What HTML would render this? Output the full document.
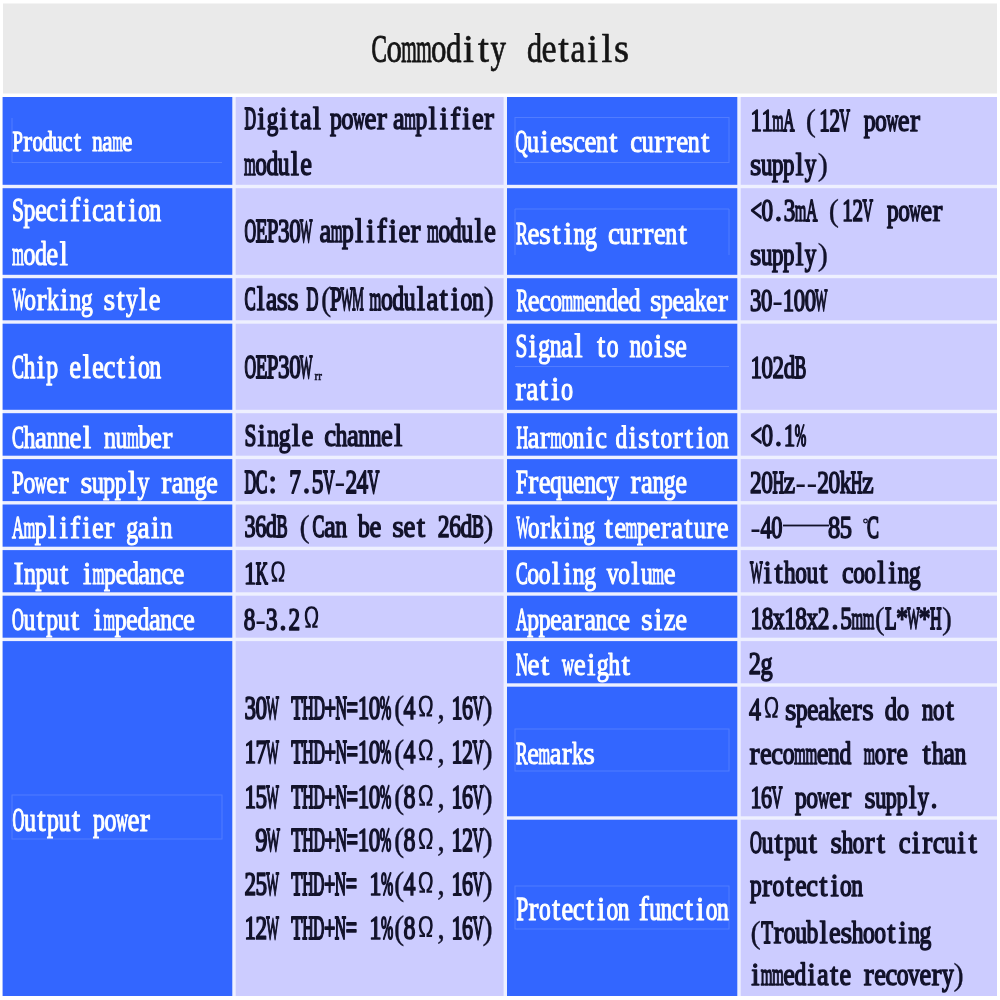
<!DOCTYPE html>
<html><head><meta charset="utf-8"><title>Commodity details</title>
<style>html,body{margin:0;padding:0;background:#fff;overflow:hidden}svg{display:block}text{font-family:"Liberation Serif",serif;font-size:20px;stroke-linejoin:round}</style></head><body>
<svg width="1000" height="1000" viewBox="0 0 1000 1000" style="filter:blur(0.6px)">
<rect width="1000" height="1000" fill="#ffffff"/>
<rect x="3" y="3.5" width="994" height="90" fill="#eaeaea"/>
<rect x="2.6" y="97" width="994.4" height="899" fill="#eef0ff"/>
<rect x="2.60" y="97.00" width="229.70" height="87.80" fill="#3366ff"/>
<rect x="2.60" y="188.20" width="229.70" height="86.60" fill="#3366ff"/>
<rect x="2.60" y="278.20" width="229.70" height="42.10" fill="#3366ff"/>
<rect x="2.60" y="323.70" width="229.70" height="86.10" fill="#3366ff"/>
<rect x="2.60" y="413.20" width="229.70" height="42.50" fill="#3366ff"/>
<rect x="2.60" y="459.10" width="229.70" height="42.00" fill="#3366ff"/>
<rect x="2.60" y="504.50" width="229.70" height="42.20" fill="#3366ff"/>
<rect x="2.60" y="550.10" width="229.70" height="42.20" fill="#3366ff"/>
<rect x="2.60" y="595.70" width="229.70" height="42.00" fill="#3366ff"/>
<rect x="2.60" y="641.10" width="229.70" height="354.90" fill="#3366ff"/>
<rect x="235.70" y="97.00" width="267.90" height="87.80" fill="#ccccff"/>
<rect x="235.70" y="188.20" width="267.90" height="86.60" fill="#ccccff"/>
<rect x="235.70" y="278.20" width="267.90" height="42.10" fill="#ccccff"/>
<rect x="235.70" y="323.70" width="267.90" height="86.10" fill="#ccccff"/>
<rect x="235.70" y="413.20" width="267.90" height="42.50" fill="#ccccff"/>
<rect x="235.70" y="459.10" width="267.90" height="42.00" fill="#ccccff"/>
<rect x="235.70" y="504.50" width="267.90" height="42.20" fill="#ccccff"/>
<rect x="235.70" y="550.10" width="267.90" height="42.20" fill="#ccccff"/>
<rect x="235.70" y="595.70" width="267.90" height="42.00" fill="#ccccff"/>
<rect x="235.70" y="641.10" width="267.90" height="354.90" fill="#ccccff"/>
<rect x="507.00" y="97.00" width="230.30" height="87.80" fill="#3366ff"/>
<rect x="507.00" y="188.20" width="230.30" height="86.60" fill="#3366ff"/>
<rect x="507.00" y="278.20" width="230.30" height="42.10" fill="#3366ff"/>
<rect x="507.00" y="323.70" width="230.30" height="86.10" fill="#3366ff"/>
<rect x="507.00" y="413.20" width="230.30" height="42.50" fill="#3366ff"/>
<rect x="507.00" y="459.10" width="230.30" height="42.00" fill="#3366ff"/>
<rect x="507.00" y="504.50" width="230.30" height="42.20" fill="#3366ff"/>
<rect x="507.00" y="550.10" width="230.30" height="42.20" fill="#3366ff"/>
<rect x="507.00" y="595.70" width="230.30" height="42.00" fill="#3366ff"/>
<rect x="507.00" y="641.10" width="230.30" height="42.20" fill="#3366ff"/>
<rect x="507.00" y="686.70" width="230.30" height="129.60" fill="#3366ff"/>
<rect x="507.00" y="819.70" width="230.30" height="176.30" fill="#3366ff"/>
<rect x="740.70" y="97.00" width="256.30" height="87.80" fill="#ccccff"/>
<rect x="740.70" y="188.20" width="256.30" height="86.60" fill="#ccccff"/>
<rect x="740.70" y="278.20" width="256.30" height="42.10" fill="#ccccff"/>
<rect x="740.70" y="323.70" width="256.30" height="86.10" fill="#ccccff"/>
<rect x="740.70" y="413.20" width="256.30" height="42.50" fill="#ccccff"/>
<rect x="740.70" y="459.10" width="256.30" height="42.00" fill="#ccccff"/>
<rect x="740.70" y="504.50" width="256.30" height="42.20" fill="#ccccff"/>
<rect x="740.70" y="550.10" width="256.30" height="42.20" fill="#ccccff"/>
<rect x="740.70" y="595.70" width="256.30" height="42.00" fill="#ccccff"/>
<rect x="740.70" y="641.10" width="256.30" height="42.20" fill="#ccccff"/>
<rect x="740.70" y="686.70" width="256.30" height="129.60" fill="#ccccff"/>
<rect x="740.70" y="819.70" width="256.30" height="176.30" fill="#ccccff"/>
<g fill="none" stroke="#6f93ff" stroke-width="1" opacity="0.5">
<path d="M12 118V162.5H222"/>
<rect x="12" y="795" width="210" height="44"/>
<rect x="515" y="117.5" width="214" height="45"/>
<path d="M515 255V209H729V255"/>
<rect x="515" y="729" width="214" height="42"/>
<rect x="515" y="886" width="214" height="43"/>
<path d="M515 366.5H729"/>
</g>
<g fill="#151515" stroke="#151515" transform="translate(0 61.60) scale(1 1.9854)">
<text transform="translate(371.60) scale(1.159 1)" stroke-width="0.52">C</text>
<text transform="translate(386.47) scale(1.546 1)" stroke-width="0.39">o</text>
<text transform="translate(401.33) scale(0.994 1)" stroke-width="0.51">m</text>
<text transform="translate(416.20) scale(0.994 1)" stroke-width="0.51">m</text>
<text transform="translate(431.07) scale(1.546 1)" stroke-width="0.39">o</text>
<text transform="translate(445.94) scale(1.546 1)" stroke-width="0.39">d</text>
<text transform="translate(463.04) scale(1.979 1)" stroke-width="0.30">i</text>
<text transform="translate(477.90) scale(1.979 1)" stroke-width="0.30">t</text>
<text transform="translate(490.54) scale(1.546 1)" stroke-width="0.39">y</text>
<text transform="translate(527.00) scale(1.507 1)" stroke-width="0.40">d</text>
<text transform="translate(541.49) scale(1.697 1)" stroke-width="0.35">e</text>
<text transform="translate(558.15) scale(1.929 1)" stroke-width="0.31">t</text>
<text transform="translate(570.46) scale(1.697 1)" stroke-width="0.35">a</text>
<text transform="translate(587.13) scale(1.929 1)" stroke-width="0.31">i</text>
<text transform="translate(601.62) scale(1.929 1)" stroke-width="0.31">l</text>
<text transform="translate(613.96) scale(1.929 1)" stroke-width="0.31">s</text>
</g>
<g fill="#ffffff" stroke="#ffffff" transform="translate(0 151.25) scale(1 1.4890)">
<text transform="translate(12.50) scale(0.932 1)" stroke-width="0.88">P</text>
<text transform="translate(23.23) scale(1.327 1)" stroke-width="0.65">r</text>
<text transform="translate(32.43) scale(1.036 1)" stroke-width="0.83">o</text>
<text transform="translate(42.39) scale(1.036 1)" stroke-width="0.83">d</text>
<text transform="translate(52.36) scale(1.036 1)" stroke-width="0.83">u</text>
<text transform="translate(62.32) scale(1.167 1)" stroke-width="0.74">c</text>
<text transform="translate(73.78) scale(1.327 1)" stroke-width="0.65">t</text>
<text transform="translate(92.22) scale(1.036 1)" stroke-width="0.83">n</text>
<text transform="translate(102.18) scale(1.167 1)" stroke-width="0.74">a</text>
<text transform="translate(112.15) scale(0.666 1)" stroke-width="0.73">m</text>
<text transform="translate(122.11) scale(1.167 1)" stroke-width="0.74">e</text>
</g>
<g fill="#ffffff" stroke="#ffffff" transform="translate(0 221.25) scale(1 1.6609)">
<text transform="translate(12.00) scale(1.070 1)" stroke-width="0.81">S</text>
<text transform="translate(23.45) scale(1.190 1)" stroke-width="0.73">p</text>
<text transform="translate(34.89) scale(1.341 1)" stroke-width="0.64">e</text>
<text transform="translate(46.34) scale(1.341 1)" stroke-width="0.64">c</text>
<text transform="translate(59.50) scale(1.524 1)" stroke-width="0.57">i</text>
<text transform="translate(70.11) scale(1.524 1)" stroke-width="0.57">f</text>
<text transform="translate(82.39) scale(1.524 1)" stroke-width="0.57">i</text>
<text transform="translate(92.12) scale(1.341 1)" stroke-width="0.64">c</text>
<text transform="translate(103.56) scale(1.341 1)" stroke-width="0.64">a</text>
<text transform="translate(116.73) scale(1.524 1)" stroke-width="0.57">t</text>
<text transform="translate(128.17) scale(1.524 1)" stroke-width="0.57">i</text>
<text transform="translate(137.90) scale(1.190 1)" stroke-width="0.73">o</text>
<text transform="translate(149.35) scale(1.190 1)" stroke-width="0.73">n</text>
</g>
<g fill="#ffffff" stroke="#ffffff" transform="translate(0 265.00) scale(1 1.6418)">
<text transform="translate(12.00) scale(0.766 1)" stroke-width="0.73">m</text>
<text transform="translate(23.45) scale(1.191 1)" stroke-width="0.73">o</text>
<text transform="translate(34.91) scale(1.191 1)" stroke-width="0.73">d</text>
<text transform="translate(46.36) scale(1.342 1)" stroke-width="0.64">e</text>
<text transform="translate(59.54) scale(1.525 1)" stroke-width="0.57">l</text>
</g>
<g fill="#ffffff" stroke="#ffffff" transform="translate(0 310.00) scale(1 1.5654)">
<text transform="translate(12.50) scale(0.682 1)" stroke-width="0.86">W</text>
<text transform="translate(24.36) scale(1.176 1)" stroke-width="0.73">o</text>
<text transform="translate(36.53) scale(1.505 1)" stroke-width="0.57">r</text>
<text transform="translate(46.97) scale(1.176 1)" stroke-width="0.73">k</text>
<text transform="translate(59.97) scale(1.505 1)" stroke-width="0.57">i</text>
<text transform="translate(69.58) scale(1.176 1)" stroke-width="0.73">n</text>
<text transform="translate(80.89) scale(1.176 1)" stroke-width="0.73">g</text>
<text transform="translate(103.52) scale(1.505 1)" stroke-width="0.57">s</text>
<text transform="translate(116.50) scale(1.505 1)" stroke-width="0.57">t</text>
<text transform="translate(126.10) scale(1.176 1)" stroke-width="0.73">y</text>
<text transform="translate(139.11) scale(1.505 1)" stroke-width="0.57">l</text>
<text transform="translate(148.71) scale(1.324 1)" stroke-width="0.65">e</text>
</g>
<g fill="#ffffff" stroke="#ffffff" transform="translate(0 377.50) scale(1 1.7181)">
<text transform="translate(12.00) scale(0.892 1)" stroke-width="0.89">C</text>
<text transform="translate(23.45) scale(1.190 1)" stroke-width="0.73">h</text>
<text transform="translate(36.61) scale(1.524 1)" stroke-width="0.57">i</text>
<text transform="translate(46.34) scale(1.190 1)" stroke-width="0.73">p</text>
<text transform="translate(69.23) scale(1.341 1)" stroke-width="0.64">e</text>
<text transform="translate(82.39) scale(1.524 1)" stroke-width="0.57">l</text>
<text transform="translate(92.12) scale(1.341 1)" stroke-width="0.64">e</text>
<text transform="translate(103.56) scale(1.341 1)" stroke-width="0.64">c</text>
<text transform="translate(116.73) scale(1.524 1)" stroke-width="0.57">t</text>
<text transform="translate(128.17) scale(1.524 1)" stroke-width="0.57">i</text>
<text transform="translate(137.90) scale(1.190 1)" stroke-width="0.73">o</text>
<text transform="translate(149.35) scale(1.190 1)" stroke-width="0.73">n</text>
</g>
<g fill="#ffffff" stroke="#ffffff" transform="translate(0 447.50) scale(1 1.6036)">
<text transform="translate(12.00) scale(0.896 1)" stroke-width="0.89">C</text>
<text transform="translate(23.50) scale(1.196 1)" stroke-width="0.72">h</text>
<text transform="translate(34.99) scale(1.347 1)" stroke-width="0.64">a</text>
<text transform="translate(46.49) scale(1.196 1)" stroke-width="0.72">n</text>
<text transform="translate(57.98) scale(1.196 1)" stroke-width="0.72">n</text>
<text transform="translate(69.48) scale(1.347 1)" stroke-width="0.64">e</text>
<text transform="translate(82.70) scale(1.530 1)" stroke-width="0.56">l</text>
<text transform="translate(103.96) scale(1.196 1)" stroke-width="0.72">n</text>
<text transform="translate(115.46) scale(1.196 1)" stroke-width="0.72">u</text>
<text transform="translate(126.96) scale(0.768 1)" stroke-width="0.73">m</text>
<text transform="translate(138.45) scale(1.196 1)" stroke-width="0.72">b</text>
<text transform="translate(149.95) scale(1.347 1)" stroke-width="0.64">e</text>
<text transform="translate(162.32) scale(1.530 1)" stroke-width="0.56">r</text>
</g>
<g fill="#ffffff" stroke="#ffffff" transform="translate(0 492.50) scale(1 1.6227)">
<text transform="translate(12.00) scale(1.067 1)" stroke-width="0.81">P</text>
<text transform="translate(23.42) scale(1.187 1)" stroke-width="0.73">o</text>
<text transform="translate(34.83) scale(0.822 1)" stroke-width="0.86">w</text>
<text transform="translate(46.25) scale(1.338 1)" stroke-width="0.65">e</text>
<text transform="translate(58.55) scale(1.520 1)" stroke-width="0.57">r</text>
<text transform="translate(80.53) scale(1.520 1)" stroke-width="0.57">s</text>
<text transform="translate(91.92) scale(1.187 1)" stroke-width="0.73">u</text>
<text transform="translate(103.34) scale(1.187 1)" stroke-width="0.73">p</text>
<text transform="translate(114.76) scale(1.187 1)" stroke-width="0.73">p</text>
<text transform="translate(127.89) scale(1.520 1)" stroke-width="0.57">l</text>
<text transform="translate(137.59) scale(1.187 1)" stroke-width="0.73">y</text>
<text transform="translate(161.30) scale(1.520 1)" stroke-width="0.57">r</text>
<text transform="translate(171.84) scale(1.338 1)" stroke-width="0.65">a</text>
<text transform="translate(183.26) scale(1.187 1)" stroke-width="0.73">n</text>
<text transform="translate(194.68) scale(1.187 1)" stroke-width="0.73">g</text>
<text transform="translate(206.10) scale(1.338 1)" stroke-width="0.65">e</text>
</g>
<g fill="#ffffff" stroke="#ffffff" transform="translate(0 538.25) scale(1 1.6227)">
<text transform="translate(12.00) scale(0.823 1)" stroke-width="0.92">A</text>
<text transform="translate(23.43) scale(0.764 1)" stroke-width="0.73">m</text>
<text transform="translate(34.86) scale(1.189 1)" stroke-width="0.73">p</text>
<text transform="translate(48.01) scale(1.522 1)" stroke-width="0.57">l</text>
<text transform="translate(59.44) scale(1.522 1)" stroke-width="0.57">i</text>
<text transform="translate(70.03) scale(1.522 1)" stroke-width="0.57">f</text>
<text transform="translate(82.31) scale(1.522 1)" stroke-width="0.57">i</text>
<text transform="translate(92.02) scale(1.339 1)" stroke-width="0.65">e</text>
<text transform="translate(104.33) scale(1.522 1)" stroke-width="0.57">r</text>
<text transform="translate(126.32) scale(1.189 1)" stroke-width="0.73">g</text>
<text transform="translate(137.75) scale(1.339 1)" stroke-width="0.65">a</text>
<text transform="translate(150.90) scale(1.522 1)" stroke-width="0.57">i</text>
<text transform="translate(160.61) scale(1.189 1)" stroke-width="0.73">n</text>
</g>
<g fill="#ffffff" stroke="#ffffff" transform="translate(0 583.75) scale(1 1.6227)">
<text transform="translate(13.50) scale(1.521 1)" stroke-width="0.57">I</text>
<text transform="translate(24.05) scale(1.188 1)" stroke-width="0.73">n</text>
<text transform="translate(35.48) scale(1.188 1)" stroke-width="0.73">p</text>
<text transform="translate(46.90) scale(1.188 1)" stroke-width="0.73">u</text>
<text transform="translate(60.04) scale(1.521 1)" stroke-width="0.57">t</text>
<text transform="translate(82.89) scale(1.521 1)" stroke-width="0.57">i</text>
<text transform="translate(92.61) scale(0.764 1)" stroke-width="0.73">m</text>
<text transform="translate(104.03) scale(1.188 1)" stroke-width="0.73">p</text>
<text transform="translate(115.46) scale(1.339 1)" stroke-width="0.65">e</text>
<text transform="translate(126.88) scale(1.188 1)" stroke-width="0.73">d</text>
<text transform="translate(138.31) scale(1.339 1)" stroke-width="0.65">a</text>
<text transform="translate(149.73) scale(1.188 1)" stroke-width="0.73">n</text>
<text transform="translate(161.16) scale(1.339 1)" stroke-width="0.65">c</text>
<text transform="translate(172.59) scale(1.339 1)" stroke-width="0.65">e</text>
</g>
<g fill="#ffffff" stroke="#ffffff" transform="translate(0 629.50) scale(1 1.5845)">
<text transform="translate(12.00) scale(0.821 1)" stroke-width="0.92">O</text>
<text transform="translate(23.41) scale(1.186 1)" stroke-width="0.73">u</text>
<text transform="translate(36.53) scale(1.519 1)" stroke-width="0.57">t</text>
<text transform="translate(46.22) scale(1.186 1)" stroke-width="0.73">p</text>
<text transform="translate(57.63) scale(1.186 1)" stroke-width="0.73">u</text>
<text transform="translate(70.75) scale(1.519 1)" stroke-width="0.57">t</text>
<text transform="translate(93.56) scale(1.519 1)" stroke-width="0.57">i</text>
<text transform="translate(103.26) scale(0.763 1)" stroke-width="0.73">m</text>
<text transform="translate(114.66) scale(1.186 1)" stroke-width="0.73">p</text>
<text transform="translate(126.07) scale(1.336 1)" stroke-width="0.65">e</text>
<text transform="translate(137.48) scale(1.186 1)" stroke-width="0.73">d</text>
<text transform="translate(148.89) scale(1.336 1)" stroke-width="0.65">a</text>
<text transform="translate(160.29) scale(1.186 1)" stroke-width="0.73">n</text>
<text transform="translate(171.70) scale(1.336 1)" stroke-width="0.65">c</text>
<text transform="translate(183.11) scale(1.336 1)" stroke-width="0.65">e</text>
</g>
<g fill="#ffffff" stroke="#ffffff" transform="translate(0 831.25) scale(1 1.7181)">
<text transform="translate(12.50) scale(0.828 1)" stroke-width="0.91">O</text>
<text transform="translate(23.99) scale(1.195 1)" stroke-width="0.72">u</text>
<text transform="translate(37.22) scale(1.530 1)" stroke-width="0.56">t</text>
<text transform="translate(46.98) scale(1.195 1)" stroke-width="0.72">p</text>
<text transform="translate(58.48) scale(1.195 1)" stroke-width="0.72">u</text>
<text transform="translate(71.70) scale(1.530 1)" stroke-width="0.56">t</text>
<text transform="translate(92.96) scale(1.195 1)" stroke-width="0.72">p</text>
<text transform="translate(104.46) scale(1.195 1)" stroke-width="0.72">o</text>
<text transform="translate(115.95) scale(0.828 1)" stroke-width="0.86">w</text>
<text transform="translate(127.45) scale(1.347 1)" stroke-width="0.64">e</text>
<text transform="translate(139.82) scale(1.530 1)" stroke-width="0.56">r</text>
</g>
<g fill="#12122a" stroke="#12122a" transform="translate(0 128.75) scale(1 1.6036)">
<text transform="translate(244.50) scale(0.800 1)" stroke-width="1.28">D</text>
<text transform="translate(257.27) scale(1.478 1)" stroke-width="0.81">i</text>
<text transform="translate(266.71) scale(1.155 1)" stroke-width="1.04">g</text>
<text transform="translate(279.48) scale(1.478 1)" stroke-width="0.81">i</text>
<text transform="translate(290.59) scale(1.478 1)" stroke-width="0.81">t</text>
<text transform="translate(300.02) scale(1.301 1)" stroke-width="0.92">a</text>
<text transform="translate(312.80) scale(1.478 1)" stroke-width="0.81">l</text>
<text transform="translate(330.00) scale(1.195 1)" stroke-width="1.00">p</text>
<text transform="translate(341.49) scale(1.195 1)" stroke-width="1.00">o</text>
<text transform="translate(352.97) scale(0.827 1)" stroke-width="1.20">w</text>
<text transform="translate(364.46) scale(1.346 1)" stroke-width="0.89">e</text>
<text transform="translate(376.83) scale(1.529 1)" stroke-width="0.78">r</text>
<text transform="translate(393.00) scale(1.320 1)" stroke-width="0.91">a</text>
<text transform="translate(404.27) scale(0.753 1)" stroke-width="1.02">m</text>
<text transform="translate(415.54) scale(1.172 1)" stroke-width="1.02">p</text>
<text transform="translate(428.50) scale(1.500 1)" stroke-width="0.80">l</text>
<text transform="translate(439.77) scale(1.500 1)" stroke-width="0.80">i</text>
<text transform="translate(450.21) scale(1.500 1)" stroke-width="0.80">f</text>
<text transform="translate(462.31) scale(1.500 1)" stroke-width="0.80">i</text>
<text transform="translate(471.89) scale(1.320 1)" stroke-width="0.91">e</text>
<text transform="translate(484.02) scale(1.500 1)" stroke-width="0.80">r</text>
</g>
<g fill="#12122a" stroke="#12122a" transform="translate(0 175.00) scale(1 1.6418)">
<text transform="translate(244.00) scale(0.752 1)" stroke-width="1.02">m</text>
<text transform="translate(255.25) scale(1.170 1)" stroke-width="1.03">o</text>
<text transform="translate(266.51) scale(1.170 1)" stroke-width="1.03">d</text>
<text transform="translate(277.76) scale(1.170 1)" stroke-width="1.03">u</text>
<text transform="translate(290.70) scale(1.498 1)" stroke-width="0.80">l</text>
<text transform="translate(300.27) scale(1.318 1)" stroke-width="0.91">e</text>
</g>
<g fill="#12122a" stroke="#12122a" transform="translate(0 242.00) scale(1 1.6799)">
<text transform="translate(244.50) scale(0.804 1)" stroke-width="1.28">O</text>
<text transform="translate(255.66) scale(0.950 1)" stroke-width="1.22">E</text>
<text transform="translate(266.83) scale(1.044 1)" stroke-width="1.15">P</text>
<text transform="translate(277.99) scale(1.161 1)" stroke-width="1.03">3</text>
<text transform="translate(289.16) scale(1.161 1)" stroke-width="1.03">0</text>
<text transform="translate(299.77) scale(0.673 1)" stroke-width="1.20">W</text>
<text transform="translate(319.50) scale(1.320 1)" stroke-width="0.91">a</text>
<text transform="translate(330.77) scale(0.753 1)" stroke-width="1.02">m</text>
<text transform="translate(342.04) scale(1.172 1)" stroke-width="1.02">p</text>
<text transform="translate(355.00) scale(1.500 1)" stroke-width="0.80">l</text>
<text transform="translate(366.27) scale(1.500 1)" stroke-width="0.80">i</text>
<text transform="translate(376.71) scale(1.500 1)" stroke-width="0.80">f</text>
<text transform="translate(388.81) scale(1.500 1)" stroke-width="0.80">i</text>
<text transform="translate(398.39) scale(1.320 1)" stroke-width="0.91">e</text>
<text transform="translate(410.52) scale(1.500 1)" stroke-width="0.80">r</text>
<text transform="translate(427.00) scale(0.763 1)" stroke-width="1.02">m</text>
<text transform="translate(438.42) scale(1.188 1)" stroke-width="1.01">o</text>
<text transform="translate(449.84) scale(1.188 1)" stroke-width="1.01">d</text>
<text transform="translate(461.26) scale(1.188 1)" stroke-width="1.01">u</text>
<text transform="translate(474.39) scale(1.520 1)" stroke-width="0.79">l</text>
<text transform="translate(484.09) scale(1.338 1)" stroke-width="0.90">e</text>
</g>
<g fill="#12122a" stroke="#12122a" transform="translate(0 310.00) scale(1 1.7181)">
<text transform="translate(244.49) scale(0.839 1)" stroke-width="1.26">C</text>
<text transform="translate(256.87) scale(1.433 1)" stroke-width="0.84">l</text>
<text transform="translate(266.02) scale(1.261 1)" stroke-width="0.95">a</text>
<text transform="translate(276.81) scale(1.433 1)" stroke-width="0.84">s</text>
<text transform="translate(287.58) scale(1.433 1)" stroke-width="0.84">s</text>
<text transform="translate(306.52) scale(0.828 1)" stroke-width="1.27">D</text>
<text transform="translate(320.91) scale(1.531 1)" stroke-width="0.20">(</text>
<text transform="translate(329.95) scale(1.035 1)" stroke-width="1.16">P</text>
<text transform="translate(340.47) scale(0.668 1)" stroke-width="1.20">W</text>
<text transform="translate(351.91) scale(0.668 1)" stroke-width="1.02">M</text>
<text transform="translate(369.50) scale(0.761 1)" stroke-width="1.02">m</text>
<text transform="translate(380.88) scale(1.183 1)" stroke-width="1.01">o</text>
<text transform="translate(392.26) scale(1.183 1)" stroke-width="1.01">d</text>
<text transform="translate(403.64) scale(1.183 1)" stroke-width="1.01">u</text>
<text transform="translate(416.73) scale(1.515 1)" stroke-width="0.79">l</text>
<text transform="translate(426.40) scale(1.333 1)" stroke-width="0.90">a</text>
<text transform="translate(439.49) scale(1.515 1)" stroke-width="0.79">t</text>
<text transform="translate(450.86) scale(1.515 1)" stroke-width="0.79">i</text>
<text transform="translate(460.54) scale(1.183 1)" stroke-width="1.01">o</text>
<text transform="translate(471.92) scale(1.183 1)" stroke-width="1.01">n</text>
<text transform="translate(483.66) scale(1.531 1)" stroke-width="0.20">)</text>
</g>
<g fill="#12122a" stroke="#12122a" transform="translate(0 378.00) scale(1 1.6609)">
<text transform="translate(244.50) scale(0.804 1)" stroke-width="1.28">O</text>
<text transform="translate(255.66) scale(0.950 1)" stroke-width="1.22">E</text>
<text transform="translate(266.83) scale(1.044 1)" stroke-width="1.15">P</text>
<text transform="translate(277.99) scale(1.161 1)" stroke-width="1.03">3</text>
<text transform="translate(289.16) scale(1.161 1)" stroke-width="1.03">0</text>
<text transform="translate(299.77) scale(0.673 1)" stroke-width="1.20">W</text>
</g>
<g fill="#12122a" stroke="#12122a" transform="translate(0 446.25) scale(1 1.5272)">
<text transform="translate(244.50) scale(1.064 1)" stroke-width="1.13">S</text>
<text transform="translate(257.58) scale(1.514 1)" stroke-width="0.79">i</text>
<text transform="translate(267.25) scale(1.183 1)" stroke-width="1.01">n</text>
<text transform="translate(278.63) scale(1.183 1)" stroke-width="1.01">g</text>
<text transform="translate(291.71) scale(1.514 1)" stroke-width="0.79">l</text>
<text transform="translate(301.38) scale(1.333 1)" stroke-width="0.90">e</text>
<text transform="translate(324.13) scale(1.333 1)" stroke-width="0.90">c</text>
<text transform="translate(335.51) scale(1.183 1)" stroke-width="1.01">h</text>
<text transform="translate(346.88) scale(1.333 1)" stroke-width="0.90">a</text>
<text transform="translate(358.26) scale(1.183 1)" stroke-width="1.01">n</text>
<text transform="translate(369.64) scale(1.183 1)" stroke-width="1.01">n</text>
<text transform="translate(381.01) scale(1.333 1)" stroke-width="0.90">e</text>
<text transform="translate(394.10) scale(1.514 1)" stroke-width="0.79">l</text>
</g>
<g fill="#12122a" stroke="#12122a" transform="translate(0 492.50) scale(1 1.7181)">
<text transform="translate(244.50) scale(0.807 1)" stroke-width="1.28">D</text>
<text transform="translate(255.71) scale(0.874 1)" stroke-width="1.25">C</text>
<text transform="translate(268.61) scale(1.493 1)" stroke-width="0.80">:</text>
<text transform="translate(289.35) scale(1.166 1)" stroke-width="1.03">7</text>
<text transform="translate(302.66) scale(1.493 1)" stroke-width="0.80">.</text>
<text transform="translate(311.77) scale(1.166 1)" stroke-width="1.03">5</text>
<text transform="translate(322.99) scale(0.807 1)" stroke-width="1.28">V</text>
<text transform="translate(334.87) scale(1.549 1)" stroke-width="0.10">-</text>
<text transform="translate(345.41) scale(1.166 1)" stroke-width="1.03">2</text>
<text transform="translate(356.62) scale(1.166 1)" stroke-width="1.03">4</text>
<text transform="translate(367.83) scale(0.807 1)" stroke-width="1.28">V</text>
</g>
<g fill="#12122a" stroke="#12122a" transform="translate(0 537.00) scale(1 1.5654)">
<text transform="translate(244.47) scale(1.108 1)" stroke-width="1.08">3</text>
<text transform="translate(255.13) scale(1.108 1)" stroke-width="1.08">6</text>
<text transform="translate(265.78) scale(1.108 1)" stroke-width="1.08">d</text>
<text transform="translate(276.44) scale(0.831 1)" stroke-width="1.27">B</text>
<text transform="translate(299.41) scale(1.531 1)" stroke-width="0.20">(</text>
<text transform="translate(312.50) scale(0.888 1)" stroke-width="1.24">C</text>
<text transform="translate(323.89) scale(1.334 1)" stroke-width="0.90">a</text>
<text transform="translate(335.27) scale(1.184 1)" stroke-width="1.01">n</text>
<text transform="translate(358.04) scale(1.184 1)" stroke-width="1.01">b</text>
<text transform="translate(369.43) scale(1.334 1)" stroke-width="0.90">e</text>
<text transform="translate(392.22) scale(1.516 1)" stroke-width="0.79">s</text>
<text transform="translate(403.59) scale(1.334 1)" stroke-width="0.90">e</text>
<text transform="translate(416.68) scale(1.516 1)" stroke-width="0.79">t</text>
<text transform="translate(437.74) scale(1.184 1)" stroke-width="1.01">2</text>
<text transform="translate(449.13) scale(1.184 1)" stroke-width="1.01">6</text>
<text transform="translate(460.51) scale(1.184 1)" stroke-width="1.01">d</text>
<text transform="translate(471.90) scale(0.888 1)" stroke-width="1.24">B</text>
<text transform="translate(483.16) scale(1.531 1)" stroke-width="0.20">)</text>
</g>
<g fill="#12122a" stroke="#12122a" transform="translate(0 583.75) scale(1 1.6036)">
<text transform="translate(243.91) scale(1.220 1)" stroke-width="0.98">1</text>
<text transform="translate(255.64) scale(0.845 1)" stroke-width="1.26">K</text>
</g>
<g fill="#12122a" stroke="#12122a" transform="translate(0 629.50) scale(1 1.5845)">
<text transform="translate(243.75) scale(1.161 1)" stroke-width="1.03">8</text>
<text transform="translate(255.58) scale(1.542 1)" stroke-width="0.10">-</text>
<text transform="translate(266.07) scale(1.161 1)" stroke-width="1.03">3</text>
<text transform="translate(279.32) scale(1.486 1)" stroke-width="0.81">.</text>
<text transform="translate(288.40) scale(1.161 1)" stroke-width="1.03">2</text>
</g>
<g fill="#12122a" stroke="#12122a" transform="translate(0 718.75) scale(1 1.6799)">
<text transform="translate(244.45) scale(1.156 1)" stroke-width="1.04">3</text>
<text transform="translate(255.56) scale(1.156 1)" stroke-width="1.04">0</text>
<text transform="translate(266.13) scale(0.671 1)" stroke-width="1.20">W</text>
<text transform="translate(291.25) scale(0.942 1)" stroke-width="1.22">T</text>
<text transform="translate(302.31) scale(0.797 1)" stroke-width="1.28">H</text>
<text transform="translate(313.38) scale(0.797 1)" stroke-width="1.28">D</text>
<text transform="translate(324.44) scale(1.020 1)" stroke-width="1.18">+</text>
<text transform="translate(335.50) scale(0.797 1)" stroke-width="1.28">N</text>
<text transform="translate(346.56) scale(1.020 1)" stroke-width="1.18">=</text>
<text transform="translate(357.63) scale(1.151 1)" stroke-width="1.04">1</text>
<text transform="translate(368.69) scale(1.151 1)" stroke-width="1.04">0</text>
<text transform="translate(379.75) scale(0.691 1)" stroke-width="1.34">%</text>
<text transform="translate(393.91) scale(1.531 1)" stroke-width="0.20">(</text>
<text transform="translate(403.52) scale(1.196 1)" stroke-width="1.00">4</text>
<text transform="translate(437.17) scale(1.531 1)" stroke-width="0.20">,</text>
<text transform="translate(451.39) scale(1.102 1)" stroke-width="1.09">1</text>
<text transform="translate(461.99) scale(1.102 1)" stroke-width="1.09">6</text>
<text transform="translate(472.58) scale(0.763 1)" stroke-width="1.30">V</text>
<text transform="translate(482.41) scale(1.531 1)" stroke-width="0.20">)</text>
</g>
<g fill="#12122a" stroke="#12122a" transform="translate(0 762.50) scale(1 1.6799)">
<text transform="translate(244.45) scale(1.156 1)" stroke-width="1.04">1</text>
<text transform="translate(255.56) scale(1.156 1)" stroke-width="1.04">7</text>
<text transform="translate(266.13) scale(0.671 1)" stroke-width="1.20">W</text>
<text transform="translate(291.25) scale(0.942 1)" stroke-width="1.22">T</text>
<text transform="translate(302.31) scale(0.797 1)" stroke-width="1.28">H</text>
<text transform="translate(313.38) scale(0.797 1)" stroke-width="1.28">D</text>
<text transform="translate(324.44) scale(1.020 1)" stroke-width="1.18">+</text>
<text transform="translate(335.50) scale(0.797 1)" stroke-width="1.28">N</text>
<text transform="translate(346.56) scale(1.020 1)" stroke-width="1.18">=</text>
<text transform="translate(357.63) scale(1.151 1)" stroke-width="1.04">1</text>
<text transform="translate(368.69) scale(1.151 1)" stroke-width="1.04">0</text>
<text transform="translate(379.75) scale(0.691 1)" stroke-width="1.34">%</text>
<text transform="translate(393.91) scale(1.531 1)" stroke-width="0.20">(</text>
<text transform="translate(403.52) scale(1.196 1)" stroke-width="1.00">4</text>
<text transform="translate(437.17) scale(1.531 1)" stroke-width="0.20">,</text>
<text transform="translate(451.39) scale(1.102 1)" stroke-width="1.09">1</text>
<text transform="translate(461.99) scale(1.102 1)" stroke-width="1.09">2</text>
<text transform="translate(472.58) scale(0.763 1)" stroke-width="1.30">V</text>
<text transform="translate(482.41) scale(1.531 1)" stroke-width="0.20">)</text>
</g>
<g fill="#12122a" stroke="#12122a" transform="translate(0 808.00) scale(1 1.6799)">
<text transform="translate(244.45) scale(1.156 1)" stroke-width="1.04">1</text>
<text transform="translate(255.56) scale(1.156 1)" stroke-width="1.04">5</text>
<text transform="translate(266.13) scale(0.671 1)" stroke-width="1.20">W</text>
<text transform="translate(291.25) scale(0.942 1)" stroke-width="1.22">T</text>
<text transform="translate(302.31) scale(0.797 1)" stroke-width="1.28">H</text>
<text transform="translate(313.38) scale(0.797 1)" stroke-width="1.28">D</text>
<text transform="translate(324.44) scale(1.020 1)" stroke-width="1.18">+</text>
<text transform="translate(335.50) scale(0.797 1)" stroke-width="1.28">N</text>
<text transform="translate(346.56) scale(1.020 1)" stroke-width="1.18">=</text>
<text transform="translate(357.63) scale(1.151 1)" stroke-width="1.04">1</text>
<text transform="translate(368.69) scale(1.151 1)" stroke-width="1.04">0</text>
<text transform="translate(379.75) scale(0.691 1)" stroke-width="1.34">%</text>
<text transform="translate(393.91) scale(1.531 1)" stroke-width="0.20">(</text>
<text transform="translate(403.52) scale(1.196 1)" stroke-width="1.00">8</text>
<text transform="translate(437.17) scale(1.531 1)" stroke-width="0.20">,</text>
<text transform="translate(451.39) scale(1.102 1)" stroke-width="1.09">1</text>
<text transform="translate(461.99) scale(1.102 1)" stroke-width="1.09">6</text>
<text transform="translate(472.58) scale(0.763 1)" stroke-width="1.30">V</text>
<text transform="translate(482.41) scale(1.531 1)" stroke-width="0.20">)</text>
</g>
<g fill="#12122a" stroke="#12122a" transform="translate(0 851.25) scale(1 1.6799)">
<text transform="translate(255.21) scale(1.228 1)" stroke-width="0.98">9</text>
<text transform="translate(266.43) scale(0.712 1)" stroke-width="1.20">W</text>
<text transform="translate(291.25) scale(0.942 1)" stroke-width="1.22">T</text>
<text transform="translate(302.31) scale(0.797 1)" stroke-width="1.28">H</text>
<text transform="translate(313.38) scale(0.797 1)" stroke-width="1.28">D</text>
<text transform="translate(324.44) scale(1.020 1)" stroke-width="1.18">+</text>
<text transform="translate(335.50) scale(0.797 1)" stroke-width="1.28">N</text>
<text transform="translate(346.56) scale(1.020 1)" stroke-width="1.18">=</text>
<text transform="translate(357.63) scale(1.151 1)" stroke-width="1.04">1</text>
<text transform="translate(368.69) scale(1.151 1)" stroke-width="1.04">0</text>
<text transform="translate(379.75) scale(0.691 1)" stroke-width="1.34">%</text>
<text transform="translate(393.91) scale(1.531 1)" stroke-width="0.20">(</text>
<text transform="translate(403.52) scale(1.196 1)" stroke-width="1.00">8</text>
<text transform="translate(437.17) scale(1.531 1)" stroke-width="0.20">,</text>
<text transform="translate(451.39) scale(1.102 1)" stroke-width="1.09">1</text>
<text transform="translate(461.99) scale(1.102 1)" stroke-width="1.09">2</text>
<text transform="translate(472.58) scale(0.763 1)" stroke-width="1.30">V</text>
<text transform="translate(482.41) scale(1.531 1)" stroke-width="0.20">)</text>
</g>
<g fill="#12122a" stroke="#12122a" transform="translate(0 895.00) scale(1 1.6799)">
<text transform="translate(244.45) scale(1.156 1)" stroke-width="1.04">2</text>
<text transform="translate(255.56) scale(1.156 1)" stroke-width="1.04">5</text>
<text transform="translate(266.13) scale(0.671 1)" stroke-width="1.20">W</text>
<text transform="translate(291.25) scale(0.926 1)" stroke-width="1.23">T</text>
<text transform="translate(302.13) scale(0.784 1)" stroke-width="1.29">H</text>
<text transform="translate(313.01) scale(0.784 1)" stroke-width="1.29">D</text>
<text transform="translate(323.90) scale(1.003 1)" stroke-width="1.20">+</text>
<text transform="translate(334.78) scale(0.784 1)" stroke-width="1.29">N</text>
<text transform="translate(345.66) scale(1.003 1)" stroke-width="1.20">=</text>
<text transform="translate(369.23) scale(1.225 1)" stroke-width="0.98">1</text>
<text transform="translate(381.02) scale(0.736 1)" stroke-width="1.32">%</text>
<text transform="translate(393.91) scale(1.531 1)" stroke-width="0.20">(</text>
<text transform="translate(403.52) scale(1.196 1)" stroke-width="1.00">4</text>
<text transform="translate(437.17) scale(1.531 1)" stroke-width="0.20">,</text>
<text transform="translate(451.39) scale(1.102 1)" stroke-width="1.09">1</text>
<text transform="translate(461.99) scale(1.102 1)" stroke-width="1.09">6</text>
<text transform="translate(472.58) scale(0.763 1)" stroke-width="1.30">V</text>
<text transform="translate(482.41) scale(1.531 1)" stroke-width="0.20">)</text>
</g>
<g fill="#12122a" stroke="#12122a" transform="translate(0 939.25) scale(1 1.6799)">
<text transform="translate(244.45) scale(1.156 1)" stroke-width="1.04">1</text>
<text transform="translate(255.56) scale(1.156 1)" stroke-width="1.04">2</text>
<text transform="translate(266.13) scale(0.671 1)" stroke-width="1.20">W</text>
<text transform="translate(291.25) scale(0.926 1)" stroke-width="1.23">T</text>
<text transform="translate(302.13) scale(0.784 1)" stroke-width="1.29">H</text>
<text transform="translate(313.01) scale(0.784 1)" stroke-width="1.29">D</text>
<text transform="translate(323.90) scale(1.003 1)" stroke-width="1.20">+</text>
<text transform="translate(334.78) scale(0.784 1)" stroke-width="1.29">N</text>
<text transform="translate(345.66) scale(1.003 1)" stroke-width="1.20">=</text>
<text transform="translate(369.23) scale(1.225 1)" stroke-width="0.98">1</text>
<text transform="translate(381.02) scale(0.736 1)" stroke-width="1.32">%</text>
<text transform="translate(393.91) scale(1.531 1)" stroke-width="0.20">(</text>
<text transform="translate(403.52) scale(1.196 1)" stroke-width="1.00">8</text>
<text transform="translate(437.17) scale(1.531 1)" stroke-width="0.20">,</text>
<text transform="translate(451.39) scale(1.102 1)" stroke-width="1.09">1</text>
<text transform="translate(461.99) scale(1.102 1)" stroke-width="1.09">6</text>
<text transform="translate(472.58) scale(0.763 1)" stroke-width="1.30">V</text>
<text transform="translate(482.41) scale(1.531 1)" stroke-width="0.20">)</text>
</g>
<g fill="#ffffff" stroke="#ffffff" transform="translate(0 152.00) scale(1 1.5845)">
<text transform="translate(515.50) scale(0.827 1)" stroke-width="0.91">Q</text>
<text transform="translate(526.99) scale(1.195 1)" stroke-width="0.72">u</text>
<text transform="translate(540.20) scale(1.529 1)" stroke-width="0.57">i</text>
<text transform="translate(549.96) scale(1.346 1)" stroke-width="0.64">e</text>
<text transform="translate(561.47) scale(1.529 1)" stroke-width="0.57">s</text>
<text transform="translate(572.93) scale(1.346 1)" stroke-width="0.64">c</text>
<text transform="translate(584.42) scale(1.346 1)" stroke-width="0.64">e</text>
<text transform="translate(595.91) scale(1.195 1)" stroke-width="0.72">n</text>
<text transform="translate(609.12) scale(1.529 1)" stroke-width="0.57">t</text>
<text transform="translate(630.37) scale(1.346 1)" stroke-width="0.64">c</text>
<text transform="translate(641.85) scale(1.195 1)" stroke-width="0.72">u</text>
<text transform="translate(654.22) scale(1.529 1)" stroke-width="0.57">r</text>
<text transform="translate(665.71) scale(1.529 1)" stroke-width="0.57">r</text>
<text transform="translate(676.32) scale(1.346 1)" stroke-width="0.64">e</text>
<text transform="translate(687.80) scale(1.195 1)" stroke-width="0.72">n</text>
<text transform="translate(701.01) scale(1.529 1)" stroke-width="0.57">t</text>
</g>
<g fill="#ffffff" stroke="#ffffff" transform="translate(0 243.75) scale(1 1.6227)">
<text transform="translate(516.00) scale(0.895 1)" stroke-width="0.89">R</text>
<text transform="translate(527.49) scale(1.345 1)" stroke-width="0.64">e</text>
<text transform="translate(538.99) scale(1.529 1)" stroke-width="0.57">s</text>
<text transform="translate(552.18) scale(1.529 1)" stroke-width="0.57">t</text>
<text transform="translate(563.66) scale(1.529 1)" stroke-width="0.57">i</text>
<text transform="translate(573.43) scale(1.194 1)" stroke-width="0.72">n</text>
<text transform="translate(584.91) scale(1.194 1)" stroke-width="0.72">g</text>
<text transform="translate(607.88) scale(1.345 1)" stroke-width="0.64">c</text>
<text transform="translate(619.37) scale(1.194 1)" stroke-width="0.72">u</text>
<text transform="translate(631.73) scale(1.529 1)" stroke-width="0.57">r</text>
<text transform="translate(643.22) scale(1.529 1)" stroke-width="0.57">r</text>
<text transform="translate(653.82) scale(1.345 1)" stroke-width="0.64">e</text>
<text transform="translate(665.31) scale(1.194 1)" stroke-width="0.72">n</text>
<text transform="translate(678.51) scale(1.529 1)" stroke-width="0.57">t</text>
</g>
<g fill="#ffffff" stroke="#ffffff" transform="translate(0 310.50) scale(1 1.5654)">
<text transform="translate(516.50) scale(0.876 1)" stroke-width="0.90">R</text>
<text transform="translate(527.73) scale(1.316 1)" stroke-width="0.66">e</text>
<text transform="translate(538.96) scale(1.316 1)" stroke-width="0.66">c</text>
<text transform="translate(550.20) scale(1.168 1)" stroke-width="0.74">o</text>
<text transform="translate(561.43) scale(0.751 1)" stroke-width="0.73">m</text>
<text transform="translate(572.66) scale(0.751 1)" stroke-width="0.73">m</text>
<text transform="translate(583.89) scale(1.316 1)" stroke-width="0.66">e</text>
<text transform="translate(595.12) scale(1.168 1)" stroke-width="0.74">n</text>
<text transform="translate(606.36) scale(1.168 1)" stroke-width="0.74">d</text>
<text transform="translate(617.59) scale(1.316 1)" stroke-width="0.66">e</text>
<text transform="translate(628.82) scale(1.168 1)" stroke-width="0.74">d</text>
<text transform="translate(650.00) scale(1.492 1)" stroke-width="0.58">s</text>
<text transform="translate(661.18) scale(1.166 1)" stroke-width="0.74">p</text>
<text transform="translate(672.39) scale(1.313 1)" stroke-width="0.66">e</text>
<text transform="translate(683.60) scale(1.313 1)" stroke-width="0.66">a</text>
<text transform="translate(694.81) scale(1.166 1)" stroke-width="0.74">k</text>
<text transform="translate(706.01) scale(1.313 1)" stroke-width="0.66">e</text>
<text transform="translate(718.08) scale(1.492 1)" stroke-width="0.58">r</text>
</g>
<g fill="#ffffff" stroke="#ffffff" transform="translate(0 357.00) scale(1 1.6799)">
<text transform="translate(515.50) scale(1.066 1)" stroke-width="0.81">S</text>
<text transform="translate(528.61) scale(1.518 1)" stroke-width="0.57">i</text>
<text transform="translate(538.30) scale(1.186 1)" stroke-width="0.73">g</text>
<text transform="translate(549.70) scale(1.186 1)" stroke-width="0.73">n</text>
<text transform="translate(561.10) scale(1.336 1)" stroke-width="0.65">a</text>
<text transform="translate(574.22) scale(1.518 1)" stroke-width="0.57">l</text>
<text transform="translate(597.02) scale(1.518 1)" stroke-width="0.57">t</text>
<text transform="translate(606.71) scale(1.186 1)" stroke-width="0.73">o</text>
<text transform="translate(629.51) scale(1.186 1)" stroke-width="0.73">n</text>
<text transform="translate(640.91) scale(1.186 1)" stroke-width="0.73">o</text>
<text transform="translate(654.02) scale(1.518 1)" stroke-width="0.57">i</text>
<text transform="translate(663.73) scale(1.518 1)" stroke-width="0.57">s</text>
<text transform="translate(675.11) scale(1.336 1)" stroke-width="0.65">e</text>
</g>
<g fill="#ffffff" stroke="#ffffff" transform="translate(0 400.00) scale(1 1.6418)">
<text transform="translate(515.50) scale(1.542 1)" stroke-width="0.56">r</text>
<text transform="translate(526.20) scale(1.357 1)" stroke-width="0.64">a</text>
<text transform="translate(539.52) scale(1.542 1)" stroke-width="0.56">t</text>
<text transform="translate(551.11) scale(1.542 1)" stroke-width="0.56">i</text>
<text transform="translate(560.95) scale(1.205 1)" stroke-width="0.72">o</text>
</g>
<g fill="#ffffff" stroke="#ffffff" transform="translate(0 447.50) scale(1 1.5654)">
<text transform="translate(516.50) scale(0.810 1)" stroke-width="0.92">H</text>
<text transform="translate(527.75) scale(1.318 1)" stroke-width="0.66">a</text>
<text transform="translate(539.87) scale(1.498 1)" stroke-width="0.58">r</text>
<text transform="translate(550.26) scale(0.752 1)" stroke-width="0.73">m</text>
<text transform="translate(561.51) scale(1.170 1)" stroke-width="0.74">o</text>
<text transform="translate(572.76) scale(1.170 1)" stroke-width="0.74">n</text>
<text transform="translate(585.70) scale(1.498 1)" stroke-width="0.58">i</text>
<text transform="translate(595.27) scale(1.318 1)" stroke-width="0.66">c</text>
<text transform="translate(615.50) scale(1.173 1)" stroke-width="0.74">d</text>
<text transform="translate(628.47) scale(1.502 1)" stroke-width="0.58">i</text>
<text transform="translate(638.08) scale(1.502 1)" stroke-width="0.58">s</text>
<text transform="translate(651.03) scale(1.502 1)" stroke-width="0.58">t</text>
<text transform="translate(660.62) scale(1.173 1)" stroke-width="0.74">o</text>
<text transform="translate(672.76) scale(1.502 1)" stroke-width="0.58">r</text>
<text transform="translate(684.87) scale(1.502 1)" stroke-width="0.58">t</text>
<text transform="translate(696.15) scale(1.502 1)" stroke-width="0.58">i</text>
<text transform="translate(705.74) scale(1.173 1)" stroke-width="0.74">o</text>
<text transform="translate(717.02) scale(1.173 1)" stroke-width="0.74">n</text>
</g>
<g fill="#ffffff" stroke="#ffffff" transform="translate(0 493.00) scale(1 1.6609)">
<text transform="translate(516.00) scale(1.063 1)" stroke-width="0.81">F</text>
<text transform="translate(528.24) scale(1.513 1)" stroke-width="0.57">r</text>
<text transform="translate(538.74) scale(1.332 1)" stroke-width="0.65">e</text>
<text transform="translate(550.10) scale(1.182 1)" stroke-width="0.73">q</text>
<text transform="translate(561.47) scale(1.182 1)" stroke-width="0.73">u</text>
<text transform="translate(572.84) scale(1.332 1)" stroke-width="0.65">e</text>
<text transform="translate(584.21) scale(1.182 1)" stroke-width="0.73">n</text>
<text transform="translate(595.57) scale(1.332 1)" stroke-width="0.65">c</text>
<text transform="translate(606.94) scale(1.182 1)" stroke-width="0.73">y</text>
<text transform="translate(630.55) scale(1.513 1)" stroke-width="0.57">r</text>
<text transform="translate(641.04) scale(1.332 1)" stroke-width="0.65">a</text>
<text transform="translate(652.41) scale(1.182 1)" stroke-width="0.73">n</text>
<text transform="translate(663.78) scale(1.182 1)" stroke-width="0.73">g</text>
<text transform="translate(675.15) scale(1.332 1)" stroke-width="0.65">e</text>
</g>
<g fill="#ffffff" stroke="#ffffff" transform="translate(0 537.50) scale(1 1.5272)">
<text transform="translate(516.50) scale(0.668 1)" stroke-width="0.86">W</text>
<text transform="translate(528.12) scale(1.152 1)" stroke-width="0.75">o</text>
<text transform="translate(540.04) scale(1.474 1)" stroke-width="0.59">r</text>
<text transform="translate(550.26) scale(1.152 1)" stroke-width="0.75">k</text>
<text transform="translate(563.00) scale(1.474 1)" stroke-width="0.59">i</text>
<text transform="translate(572.41) scale(1.152 1)" stroke-width="0.75">n</text>
<text transform="translate(583.49) scale(1.152 1)" stroke-width="0.75">g</text>
<text transform="translate(604.50) scale(1.518 1)" stroke-width="0.57">t</text>
<text transform="translate(614.19) scale(1.336 1)" stroke-width="0.65">e</text>
<text transform="translate(625.60) scale(0.763 1)" stroke-width="0.73">m</text>
<text transform="translate(637.01) scale(1.186 1)" stroke-width="0.73">p</text>
<text transform="translate(648.42) scale(1.336 1)" stroke-width="0.65">e</text>
<text transform="translate(660.70) scale(1.518 1)" stroke-width="0.57">r</text>
<text transform="translate(671.23) scale(1.336 1)" stroke-width="0.65">a</text>
<text transform="translate(684.35) scale(1.518 1)" stroke-width="0.57">t</text>
<text transform="translate(694.04) scale(1.186 1)" stroke-width="0.73">u</text>
<text transform="translate(706.32) scale(1.518 1)" stroke-width="0.57">r</text>
<text transform="translate(716.86) scale(1.336 1)" stroke-width="0.65">e</text>
</g>
<g fill="#ffffff" stroke="#ffffff" transform="translate(0 583.75) scale(1 1.6227)">
<text transform="translate(516.00) scale(0.886 1)" stroke-width="0.90">C</text>
<text transform="translate(527.36) scale(1.181 1)" stroke-width="0.73">o</text>
<text transform="translate(538.72) scale(1.181 1)" stroke-width="0.73">o</text>
<text transform="translate(551.78) scale(1.512 1)" stroke-width="0.57">l</text>
<text transform="translate(563.14) scale(1.512 1)" stroke-width="0.57">i</text>
<text transform="translate(572.79) scale(1.181 1)" stroke-width="0.73">n</text>
<text transform="translate(584.15) scale(1.181 1)" stroke-width="0.73">g</text>
<text transform="translate(606.87) scale(1.181 1)" stroke-width="0.73">v</text>
<text transform="translate(618.22) scale(1.181 1)" stroke-width="0.73">o</text>
<text transform="translate(631.29) scale(1.512 1)" stroke-width="0.57">l</text>
<text transform="translate(640.94) scale(1.181 1)" stroke-width="0.73">u</text>
<text transform="translate(652.30) scale(0.759 1)" stroke-width="0.73">m</text>
<text transform="translate(663.66) scale(1.331 1)" stroke-width="0.65">e</text>
</g>
<g fill="#ffffff" stroke="#ffffff" transform="translate(0 629.50) scale(1 1.5845)">
<text transform="translate(516.00) scale(0.819 1)" stroke-width="0.92">A</text>
<text transform="translate(527.37) scale(1.182 1)" stroke-width="0.73">p</text>
<text transform="translate(538.74) scale(1.182 1)" stroke-width="0.73">p</text>
<text transform="translate(550.10) scale(1.332 1)" stroke-width="0.65">e</text>
<text transform="translate(561.47) scale(1.332 1)" stroke-width="0.65">a</text>
<text transform="translate(573.71) scale(1.513 1)" stroke-width="0.57">r</text>
<text transform="translate(584.21) scale(1.332 1)" stroke-width="0.65">a</text>
<text transform="translate(595.57) scale(1.182 1)" stroke-width="0.73">n</text>
<text transform="translate(606.94) scale(1.332 1)" stroke-width="0.65">c</text>
<text transform="translate(618.31) scale(1.332 1)" stroke-width="0.65">e</text>
<text transform="translate(641.07) scale(1.513 1)" stroke-width="0.57">s</text>
<text transform="translate(654.12) scale(1.513 1)" stroke-width="0.57">i</text>
<text transform="translate(663.78) scale(1.332 1)" stroke-width="0.65">z</text>
<text transform="translate(675.15) scale(1.332 1)" stroke-width="0.65">e</text>
</g>
<g fill="#ffffff" stroke="#ffffff" transform="translate(0 675.00) scale(1 1.6227)">
<text transform="translate(516.00) scale(0.830 1)" stroke-width="0.91">N</text>
<text transform="translate(527.53) scale(1.351 1)" stroke-width="0.64">e</text>
<text transform="translate(540.79) scale(1.535 1)" stroke-width="0.56">t</text>
<text transform="translate(562.11) scale(0.830 1)" stroke-width="0.86">w</text>
<text transform="translate(573.64) scale(1.351 1)" stroke-width="0.64">e</text>
<text transform="translate(586.90) scale(1.535 1)" stroke-width="0.56">i</text>
<text transform="translate(596.70) scale(1.199 1)" stroke-width="0.72">g</text>
<text transform="translate(608.22) scale(1.199 1)" stroke-width="0.72">h</text>
<text transform="translate(621.48) scale(1.535 1)" stroke-width="0.56">t</text>
</g>
<g fill="#ffffff" stroke="#ffffff" transform="translate(0 763.75) scale(1 1.6227)">
<text transform="translate(516.00) scale(0.875 1)" stroke-width="0.90">R</text>
<text transform="translate(527.22) scale(1.315 1)" stroke-width="0.66">e</text>
<text transform="translate(538.44) scale(0.750 1)" stroke-width="0.73">m</text>
<text transform="translate(549.66) scale(1.315 1)" stroke-width="0.66">a</text>
<text transform="translate(561.75) scale(1.494 1)" stroke-width="0.58">r</text>
<text transform="translate(572.11) scale(1.167 1)" stroke-width="0.74">k</text>
<text transform="translate(583.35) scale(1.494 1)" stroke-width="0.58">s</text>
</g>
<g fill="#ffffff" stroke="#ffffff" transform="translate(0 920.00) scale(1 1.6799)">
<text transform="translate(516.50) scale(1.052 1)" stroke-width="0.82">P</text>
<text transform="translate(528.62) scale(1.498 1)" stroke-width="0.58">r</text>
<text transform="translate(539.01) scale(1.171 1)" stroke-width="0.74">o</text>
<text transform="translate(551.95) scale(1.498 1)" stroke-width="0.58">t</text>
<text transform="translate(561.52) scale(1.319 1)" stroke-width="0.66">e</text>
<text transform="translate(572.77) scale(1.319 1)" stroke-width="0.66">c</text>
<text transform="translate(585.72) scale(1.498 1)" stroke-width="0.58">t</text>
<text transform="translate(596.97) scale(1.498 1)" stroke-width="0.58">i</text>
<text transform="translate(606.54) scale(1.171 1)" stroke-width="0.74">o</text>
<text transform="translate(617.79) scale(1.171 1)" stroke-width="0.74">n</text>
<text transform="translate(638.75) scale(1.505 1)" stroke-width="0.57">f</text>
<text transform="translate(649.18) scale(1.175 1)" stroke-width="0.74">u</text>
<text transform="translate(660.49) scale(1.175 1)" stroke-width="0.74">n</text>
<text transform="translate(671.79) scale(1.324 1)" stroke-width="0.65">c</text>
<text transform="translate(684.79) scale(1.505 1)" stroke-width="0.57">t</text>
<text transform="translate(696.09) scale(1.505 1)" stroke-width="0.57">i</text>
<text transform="translate(705.69) scale(1.175 1)" stroke-width="0.74">o</text>
<text transform="translate(717.00) scale(1.175 1)" stroke-width="0.74">n</text>
</g>
<g fill="#12122a" stroke="#12122a" transform="translate(0 130.50) scale(1 1.5654)">
<text transform="translate(750.48) scale(1.133 1)" stroke-width="1.06">1</text>
<text transform="translate(761.38) scale(1.133 1)" stroke-width="1.06">1</text>
<text transform="translate(772.28) scale(0.729 1)" stroke-width="1.02">m</text>
<text transform="translate(783.18) scale(0.785 1)" stroke-width="1.29">A</text>
<text transform="translate(805.66) scale(1.531 1)" stroke-width="0.20">(</text>
<text transform="translate(819.34) scale(1.054 1)" stroke-width="1.14">1</text>
<text transform="translate(829.48) scale(1.054 1)" stroke-width="1.14">2</text>
<text transform="translate(839.61) scale(0.730 1)" stroke-width="1.32">V</text>
<text transform="translate(863.75) scale(1.179 1)" stroke-width="1.02">p</text>
<text transform="translate(875.09) scale(1.179 1)" stroke-width="1.02">o</text>
<text transform="translate(886.42) scale(0.816 1)" stroke-width="1.20">w</text>
<text transform="translate(897.76) scale(1.328 1)" stroke-width="0.90">e</text>
<text transform="translate(909.97) scale(1.509 1)" stroke-width="0.80">r</text>
</g>
<g fill="#12122a" stroke="#12122a" transform="translate(0 174.50) scale(1 1.6036)">
<text transform="translate(750.00) scale(1.461 1)" stroke-width="0.82">s</text>
<text transform="translate(760.95) scale(1.141 1)" stroke-width="1.05">u</text>
<text transform="translate(771.92) scale(1.141 1)" stroke-width="1.05">p</text>
<text transform="translate(782.89) scale(1.141 1)" stroke-width="1.05">p</text>
<text transform="translate(795.52) scale(1.461 1)" stroke-width="0.82">l</text>
<text transform="translate(804.84) scale(1.141 1)" stroke-width="1.05">y</text>
<text transform="translate(817.66) scale(1.531 1)" stroke-width="0.20">)</text>
</g>
<g fill="#12122a" stroke="#12122a" transform="translate(0 221.25) scale(1 1.5272)">
<text transform="translate(750.50) scale(1.023 1)" stroke-width="1.17">&lt;</text>
<text transform="translate(761.59) scale(1.154 1)" stroke-width="1.04">0</text>
<text transform="translate(774.76) scale(1.477 1)" stroke-width="0.81">.</text>
<text transform="translate(783.78) scale(1.154 1)" stroke-width="1.04">3</text>
<text transform="translate(794.87) scale(0.742 1)" stroke-width="1.02">m</text>
<text transform="translate(805.96) scale(0.799 1)" stroke-width="1.28">A</text>
<text transform="translate(828.66) scale(1.531 1)" stroke-width="0.20">(</text>
<text transform="translate(842.34) scale(1.054 1)" stroke-width="1.14">1</text>
<text transform="translate(852.48) scale(1.054 1)" stroke-width="1.14">2</text>
<text transform="translate(862.61) scale(0.730 1)" stroke-width="1.32">V</text>
<text transform="translate(887.00) scale(1.163 1)" stroke-width="1.03">p</text>
<text transform="translate(898.18) scale(1.163 1)" stroke-width="1.03">o</text>
<text transform="translate(909.37) scale(0.805 1)" stroke-width="1.20">w</text>
<text transform="translate(920.56) scale(1.310 1)" stroke-width="0.92">e</text>
<text transform="translate(932.60) scale(1.489 1)" stroke-width="0.81">r</text>
</g>
<g fill="#12122a" stroke="#12122a" transform="translate(0 265.00) scale(1 1.6036)">
<text transform="translate(750.00) scale(1.461 1)" stroke-width="0.82">s</text>
<text transform="translate(760.95) scale(1.141 1)" stroke-width="1.05">u</text>
<text transform="translate(771.92) scale(1.141 1)" stroke-width="1.05">p</text>
<text transform="translate(782.89) scale(1.141 1)" stroke-width="1.05">p</text>
<text transform="translate(795.52) scale(1.461 1)" stroke-width="0.82">l</text>
<text transform="translate(804.84) scale(1.141 1)" stroke-width="1.05">y</text>
<text transform="translate(817.66) scale(1.531 1)" stroke-width="0.20">)</text>
</g>
<g fill="#12122a" stroke="#12122a" transform="translate(0 311.25) scale(1 1.5845)">
<text transform="translate(750.00) scale(1.137 1)" stroke-width="1.06">3</text>
<text transform="translate(760.93) scale(1.137 1)" stroke-width="1.06">0</text>
<text transform="translate(772.51) scale(1.510 1)" stroke-width="0.10">-</text>
<text transform="translate(782.79) scale(1.137 1)" stroke-width="1.06">1</text>
<text transform="translate(793.72) scale(1.137 1)" stroke-width="1.06">0</text>
<text transform="translate(804.65) scale(1.137 1)" stroke-width="1.06">0</text>
<text transform="translate(815.04) scale(0.659 1)" stroke-width="1.20">W</text>
</g>
<g fill="#12122a" stroke="#12122a" transform="translate(0 377.50) scale(1 1.5654)">
<text transform="translate(750.49) scale(1.150 1)" stroke-width="1.04">1</text>
<text transform="translate(761.56) scale(1.150 1)" stroke-width="1.04">0</text>
<text transform="translate(772.62) scale(1.150 1)" stroke-width="1.04">2</text>
<text transform="translate(783.68) scale(1.150 1)" stroke-width="1.04">d</text>
<text transform="translate(794.74) scale(0.862 1)" stroke-width="1.25">B</text>
</g>
<g fill="#12122a" stroke="#12122a" transform="translate(0 446.25) scale(1 1.5272)">
<text transform="translate(750.49) scale(1.020 1)" stroke-width="1.18">&lt;</text>
<text transform="translate(761.56) scale(1.151 1)" stroke-width="1.04">0</text>
<text transform="translate(774.70) scale(1.473 1)" stroke-width="0.81">.</text>
<text transform="translate(783.69) scale(1.151 1)" stroke-width="1.04">1</text>
<text transform="translate(794.75) scale(0.691 1)" stroke-width="1.34">%</text>
</g>
<g fill="#12122a" stroke="#12122a" transform="translate(0 492.50) scale(1 1.6227)">
<text transform="translate(750.00) scale(1.165 1)" stroke-width="1.03">2</text>
<text transform="translate(761.21) scale(1.165 1)" stroke-width="1.03">0</text>
<text transform="translate(772.41) scale(0.807 1)" stroke-width="1.28">H</text>
<text transform="translate(783.62) scale(1.313 1)" stroke-width="0.91">z</text>
<text transform="translate(795.50) scale(1.548 1)" stroke-width="0.10">-</text>
<text transform="translate(806.71) scale(1.548 1)" stroke-width="0.10">-</text>
<text transform="translate(817.24) scale(1.165 1)" stroke-width="1.03">2</text>
<text transform="translate(828.45) scale(1.165 1)" stroke-width="1.03">0</text>
<text transform="translate(839.65) scale(1.165 1)" stroke-width="1.03">k</text>
<text transform="translate(850.86) scale(0.807 1)" stroke-width="1.28">H</text>
<text transform="translate(862.07) scale(1.313 1)" stroke-width="0.91">z</text>
</g>
<g fill="#12122a" stroke="#12122a" transform="translate(0 537.50) scale(1 1.5272)">
<text transform="translate(750.44) scale(1.489 1)" stroke-width="0.10">-</text>
<text transform="translate(760.57) scale(1.121 1)" stroke-width="1.07">4</text>
<text transform="translate(771.36) scale(1.121 1)" stroke-width="1.07">0</text>
<text transform="translate(827.98) scale(1.226 1)" stroke-width="0.98">8</text>
<text transform="translate(839.76) scale(1.226 1)" stroke-width="0.98">5</text>
<text transform="translate(866.89) scale(0.897 1)" stroke-width="1.24">C</text>
</g>
<g fill="#12122a" stroke="#12122a" transform="translate(0 583.00) scale(1 1.5654)">
<text transform="translate(750.00) scale(0.674 1)" stroke-width="1.20">W</text>
<text transform="translate(763.40) scale(1.487 1)" stroke-width="0.81">i</text>
<text transform="translate(774.57) scale(1.487 1)" stroke-width="0.81">t</text>
<text transform="translate(784.06) scale(1.162 1)" stroke-width="1.03">h</text>
<text transform="translate(795.23) scale(1.162 1)" stroke-width="1.03">o</text>
<text transform="translate(806.40) scale(1.162 1)" stroke-width="1.03">u</text>
<text transform="translate(819.25) scale(1.487 1)" stroke-width="0.81">t</text>
<text transform="translate(842.00) scale(1.306 1)" stroke-width="0.92">c</text>
<text transform="translate(853.15) scale(1.160 1)" stroke-width="1.03">o</text>
<text transform="translate(864.30) scale(1.160 1)" stroke-width="1.03">o</text>
<text transform="translate(877.13) scale(1.484 1)" stroke-width="0.81">l</text>
<text transform="translate(888.28) scale(1.484 1)" stroke-width="0.81">i</text>
<text transform="translate(897.75) scale(1.160 1)" stroke-width="1.03">n</text>
<text transform="translate(908.90) scale(1.160 1)" stroke-width="1.03">g</text>
</g>
<g fill="#12122a" stroke="#12122a" transform="translate(0 628.75) scale(1 1.6227)">
<text transform="translate(750.50) scale(1.167 1)" stroke-width="1.03">1</text>
<text transform="translate(761.72) scale(1.167 1)" stroke-width="1.03">8</text>
<text transform="translate(772.94) scale(1.167 1)" stroke-width="1.03">x</text>
<text transform="translate(784.15) scale(1.167 1)" stroke-width="1.03">1</text>
<text transform="translate(795.37) scale(1.167 1)" stroke-width="1.03">8</text>
<text transform="translate(806.59) scale(1.167 1)" stroke-width="1.03">x</text>
<text transform="translate(817.81) scale(1.167 1)" stroke-width="1.03">2</text>
<text transform="translate(831.13) scale(1.493 1)" stroke-width="0.80">.</text>
<text transform="translate(840.25) scale(1.167 1)" stroke-width="1.03">5</text>
<text transform="translate(851.46) scale(0.750 1)" stroke-width="1.02">m</text>
<text transform="translate(862.68) scale(0.750 1)" stroke-width="1.02">m</text>
<text transform="translate(874.76) scale(1.493 1)" stroke-width="0.20">(</text>
<text transform="translate(885.12) scale(0.955 1)" stroke-width="1.22">L</text>
<text transform="translate(896.34) scale(1.167 1)" stroke-width="1.03">*</text>
<text transform="translate(907.00) scale(0.677 1)" stroke-width="1.20">W</text>
<text transform="translate(918.77) scale(1.167 1)" stroke-width="1.03">*</text>
<text transform="translate(929.99) scale(0.808 1)" stroke-width="1.28">H</text>
<text transform="translate(942.07) scale(1.493 1)" stroke-width="0.20">)</text>
</g>
<g fill="#12122a" stroke="#12122a" transform="translate(0 673.75) scale(1 1.5845)">
<text transform="translate(748.71) scale(1.215 1)" stroke-width="0.99">2</text>
<text transform="translate(760.39) scale(1.215 1)" stroke-width="0.99">g</text>
</g>
<g fill="#12122a" stroke="#12122a" transform="translate(0 719.50) scale(1 1.6036)">
<text transform="translate(749.02) scale(1.196 1)" stroke-width="1.00">4</text>
<text transform="translate(785.00) scale(1.470 1)" stroke-width="0.82">s</text>
<text transform="translate(796.02) scale(1.148 1)" stroke-width="1.05">p</text>
<text transform="translate(807.06) scale(1.293 1)" stroke-width="0.93">e</text>
<text transform="translate(818.10) scale(1.293 1)" stroke-width="0.93">a</text>
<text transform="translate(829.14) scale(1.148 1)" stroke-width="1.05">k</text>
<text transform="translate(840.18) scale(1.293 1)" stroke-width="0.93">e</text>
<text transform="translate(852.07) scale(1.470 1)" stroke-width="0.82">r</text>
<text transform="translate(862.29) scale(1.470 1)" stroke-width="0.82">s</text>
<text transform="translate(884.74) scale(1.237 1)" stroke-width="0.97">d</text>
<text transform="translate(896.64) scale(1.237 1)" stroke-width="0.97">o</text>
<text transform="translate(921.97) scale(1.145 1)" stroke-width="1.05">n</text>
<text transform="translate(932.98) scale(1.145 1)" stroke-width="1.05">o</text>
<text transform="translate(945.64) scale(1.466 1)" stroke-width="0.82">t</text>
</g>
<g fill="#12122a" stroke="#12122a" transform="translate(0 764.00) scale(1 1.6036)">
<text transform="translate(749.50) scale(1.511 1)" stroke-width="0.79">r</text>
<text transform="translate(759.98) scale(1.330 1)" stroke-width="0.90">e</text>
<text transform="translate(771.33) scale(1.330 1)" stroke-width="0.90">c</text>
<text transform="translate(782.68) scale(1.181 1)" stroke-width="1.02">o</text>
<text transform="translate(794.04) scale(0.759 1)" stroke-width="1.02">m</text>
<text transform="translate(805.39) scale(0.759 1)" stroke-width="1.02">m</text>
<text transform="translate(816.74) scale(1.330 1)" stroke-width="0.90">e</text>
<text transform="translate(828.09) scale(1.181 1)" stroke-width="1.02">n</text>
<text transform="translate(839.44) scale(1.181 1)" stroke-width="1.02">d</text>
<text transform="translate(863.73) scale(0.732 1)" stroke-width="1.02">m</text>
<text transform="translate(874.69) scale(1.139 1)" stroke-width="1.05">o</text>
<text transform="translate(886.48) scale(1.458 1)" stroke-width="0.82">r</text>
<text transform="translate(896.60) scale(1.283 1)" stroke-width="0.94">e</text>
<text transform="translate(922.50) scale(1.497 1)" stroke-width="0.80">t</text>
<text transform="translate(932.06) scale(1.170 1)" stroke-width="1.03">h</text>
<text transform="translate(943.31) scale(1.318 1)" stroke-width="0.91">a</text>
<text transform="translate(954.56) scale(1.170 1)" stroke-width="1.03">n</text>
</g>
<g fill="#12122a" stroke="#12122a" transform="translate(0 808.00) scale(1 1.5654)">
<text transform="translate(750.39) scale(1.102 1)" stroke-width="1.09">1</text>
<text transform="translate(760.99) scale(1.102 1)" stroke-width="1.09">6</text>
<text transform="translate(771.58) scale(0.763 1)" stroke-width="1.30">V</text>
<text transform="translate(795.00) scale(1.179 1)" stroke-width="1.02">p</text>
<text transform="translate(806.34) scale(1.179 1)" stroke-width="1.02">o</text>
<text transform="translate(817.67) scale(0.816 1)" stroke-width="1.20">w</text>
<text transform="translate(829.01) scale(1.328 1)" stroke-width="0.90">e</text>
<text transform="translate(841.22) scale(1.509 1)" stroke-width="0.80">r</text>
<text transform="translate(864.50) scale(1.419 1)" stroke-width="0.85">s</text>
<text transform="translate(875.13) scale(1.108 1)" stroke-width="1.08">u</text>
<text transform="translate(885.79) scale(1.108 1)" stroke-width="1.08">p</text>
<text transform="translate(896.45) scale(1.108 1)" stroke-width="1.08">p</text>
<text transform="translate(908.70) scale(1.419 1)" stroke-width="0.85">l</text>
<text transform="translate(917.76) scale(1.108 1)" stroke-width="1.08">y</text>
<text transform="translate(930.41) scale(1.419 1)" stroke-width="0.85">.</text>
</g>
<g fill="#12122a" stroke="#12122a" transform="translate(0 853.00) scale(1 1.6036)">
<text transform="translate(750.00) scale(0.819 1)" stroke-width="1.27">O</text>
<text transform="translate(761.38) scale(1.183 1)" stroke-width="1.01">u</text>
<text transform="translate(774.46) scale(1.515 1)" stroke-width="0.79">t</text>
<text transform="translate(784.13) scale(1.183 1)" stroke-width="1.01">p</text>
<text transform="translate(795.51) scale(1.183 1)" stroke-width="1.01">u</text>
<text transform="translate(808.59) scale(1.515 1)" stroke-width="0.79">t</text>
<text transform="translate(830.50) scale(1.485 1)" stroke-width="0.81">s</text>
<text transform="translate(841.63) scale(1.160 1)" stroke-width="1.03">h</text>
<text transform="translate(852.78) scale(1.160 1)" stroke-width="1.03">o</text>
<text transform="translate(864.79) scale(1.485 1)" stroke-width="0.81">r</text>
<text transform="translate(876.76) scale(1.485 1)" stroke-width="0.81">t</text>
<text transform="translate(898.75) scale(1.331 1)" stroke-width="0.90">c</text>
<text transform="translate(911.81) scale(1.512 1)" stroke-width="0.79">i</text>
<text transform="translate(922.34) scale(1.512 1)" stroke-width="0.79">r</text>
<text transform="translate(932.83) scale(1.331 1)" stroke-width="0.90">c</text>
<text transform="translate(944.19) scale(1.181 1)" stroke-width="1.02">u</text>
<text transform="translate(957.25) scale(1.512 1)" stroke-width="0.79">i</text>
<text transform="translate(968.61) scale(1.512 1)" stroke-width="0.79">t</text>
</g>
<g fill="#12122a" stroke="#12122a" transform="translate(0 896.25) scale(1 1.6036)">
<text transform="translate(750.00) scale(1.171 1)" stroke-width="1.03">p</text>
<text transform="translate(762.12) scale(1.498 1)" stroke-width="0.80">r</text>
<text transform="translate(772.51) scale(1.171 1)" stroke-width="1.03">o</text>
<text transform="translate(785.45) scale(1.498 1)" stroke-width="0.80">t</text>
<text transform="translate(795.02) scale(1.319 1)" stroke-width="0.91">e</text>
<text transform="translate(806.27) scale(1.319 1)" stroke-width="0.91">c</text>
<text transform="translate(819.22) scale(1.498 1)" stroke-width="0.80">t</text>
<text transform="translate(830.47) scale(1.498 1)" stroke-width="0.80">i</text>
<text transform="translate(840.04) scale(1.171 1)" stroke-width="1.03">o</text>
<text transform="translate(851.29) scale(1.171 1)" stroke-width="1.03">n</text>
</g>
<g fill="#12122a" stroke="#12122a" transform="translate(0 942.50) scale(1 1.6227)">
<text transform="translate(750.41) scale(1.531 1)" stroke-width="0.20">(</text>
<text transform="translate(761.25) scale(0.962 1)" stroke-width="1.21">T</text>
<text transform="translate(773.42) scale(1.505 1)" stroke-width="0.80">r</text>
<text transform="translate(783.86) scale(1.176 1)" stroke-width="1.02">o</text>
<text transform="translate(795.16) scale(1.176 1)" stroke-width="1.02">u</text>
<text transform="translate(806.46) scale(1.176 1)" stroke-width="1.02">b</text>
<text transform="translate(819.46) scale(1.505 1)" stroke-width="0.80">l</text>
<text transform="translate(829.07) scale(1.324 1)" stroke-width="0.91">e</text>
<text transform="translate(840.39) scale(1.505 1)" stroke-width="0.80">s</text>
<text transform="translate(851.68) scale(1.176 1)" stroke-width="1.02">h</text>
<text transform="translate(862.98) scale(1.176 1)" stroke-width="1.02">o</text>
<text transform="translate(874.28) scale(1.176 1)" stroke-width="1.02">o</text>
<text transform="translate(887.28) scale(1.505 1)" stroke-width="0.80">t</text>
<text transform="translate(898.59) scale(1.505 1)" stroke-width="0.80">i</text>
<text transform="translate(908.19) scale(1.176 1)" stroke-width="1.02">n</text>
<text transform="translate(919.49) scale(1.176 1)" stroke-width="1.02">g</text>
</g>
<g fill="#12122a" stroke="#12122a" transform="translate(0 985.00) scale(1 1.6036)">
<text transform="translate(751.25) scale(1.497 1)" stroke-width="0.80">i</text>
<text transform="translate(760.81) scale(0.752 1)" stroke-width="1.02">m</text>
<text transform="translate(772.05) scale(0.752 1)" stroke-width="1.02">m</text>
<text transform="translate(783.30) scale(1.317 1)" stroke-width="0.91">e</text>
<text transform="translate(794.54) scale(1.170 1)" stroke-width="1.03">d</text>
<text transform="translate(807.48) scale(1.497 1)" stroke-width="0.80">i</text>
<text transform="translate(817.03) scale(1.317 1)" stroke-width="0.91">a</text>
<text transform="translate(829.97) scale(1.497 1)" stroke-width="0.80">t</text>
<text transform="translate(839.53) scale(1.317 1)" stroke-width="0.91">e</text>
<text transform="translate(863.75) scale(1.505 1)" stroke-width="0.80">r</text>
<text transform="translate(874.18) scale(1.324 1)" stroke-width="0.91">e</text>
<text transform="translate(885.49) scale(1.324 1)" stroke-width="0.91">c</text>
<text transform="translate(896.79) scale(1.175 1)" stroke-width="1.02">o</text>
<text transform="translate(908.09) scale(1.175 1)" stroke-width="1.02">v</text>
<text transform="translate(919.39) scale(1.324 1)" stroke-width="0.91">e</text>
<text transform="translate(931.56) scale(1.505 1)" stroke-width="0.80">r</text>
<text transform="translate(942.00) scale(1.175 1)" stroke-width="1.02">y</text>
<text transform="translate(953.41) scale(1.531 1)" stroke-width="0.20">)</text>
</g>
<g fill="none" stroke="#12122a" stroke-width="2.4" stroke-linejoin="miter">
<path transform="translate(271.50 561.50) scale(1.000 0.909)" d="M0.4 21H4.6V19.4C2.2 17 1 13.6 1 9.6C1 4.2 3.2 1 6.5 1C9.8 1 12 4.2 12 9.6C12 13.6 10.8 17 8.4 19.4V21H12.6"/>
<path transform="translate(305.00 606.50) scale(1.000 0.955)" d="M0.4 21H4.6V19.4C2.2 17 1 13.6 1 9.6C1 4.2 3.2 1 6.5 1C9.8 1 12 4.2 12 9.6C12 13.6 10.8 17 8.4 19.4V21H12.6"/>
<path transform="translate(765.00 697.00) scale(1.000 0.932)" d="M0.4 21H4.6V19.4C2.2 17 1 13.6 1 9.6C1 4.2 3.2 1 6.5 1C9.8 1 12 4.2 12 9.6C12 13.6 10.8 17 8.4 19.4V21H12.6"/>
<path transform="translate(419.00 695.75) scale(1.038 0.932)" d="M0.4 21H4.6V19.4C2.2 17 1 13.6 1 9.6C1 4.2 3.2 1 6.5 1C9.8 1 12 4.2 12 9.6C12 13.6 10.8 17 8.4 19.4V21H12.6"/>
<path transform="translate(419.00 739.50) scale(1.038 0.932)" d="M0.4 21H4.6V19.4C2.2 17 1 13.6 1 9.6C1 4.2 3.2 1 6.5 1C9.8 1 12 4.2 12 9.6C12 13.6 10.8 17 8.4 19.4V21H12.6"/>
<path transform="translate(419.00 785.00) scale(1.038 0.932)" d="M0.4 21H4.6V19.4C2.2 17 1 13.6 1 9.6C1 4.2 3.2 1 6.5 1C9.8 1 12 4.2 12 9.6C12 13.6 10.8 17 8.4 19.4V21H12.6"/>
<path transform="translate(419.00 828.25) scale(1.038 0.932)" d="M0.4 21H4.6V19.4C2.2 17 1 13.6 1 9.6C1 4.2 3.2 1 6.5 1C9.8 1 12 4.2 12 9.6C12 13.6 10.8 17 8.4 19.4V21H12.6"/>
<path transform="translate(419.00 872.00) scale(1.038 0.932)" d="M0.4 21H4.6V19.4C2.2 17 1 13.6 1 9.6C1 4.2 3.2 1 6.5 1C9.8 1 12 4.2 12 9.6C12 13.6 10.8 17 8.4 19.4V21H12.6"/>
<path transform="translate(419.00 916.25) scale(1.038 0.932)" d="M0.4 21H4.6V19.4C2.2 17 1 13.6 1 9.6C1 4.2 3.2 1 6.5 1C9.8 1 12 4.2 12 9.6C12 13.6 10.8 17 8.4 19.4V21H12.6"/>
</g>
<rect x="783" y="524.6" width="46" height="1.8" fill="#12122a"/>
<circle cx="865.5" cy="521" r="1.8" fill="none" stroke="#12122a" stroke-width="1.2"/>
<text transform="translate(314.5 379.5) scale(0.55 0.6)" fill="#12122a" stroke="#12122a" stroke-width="1">rr</text>
</svg></body></html>
